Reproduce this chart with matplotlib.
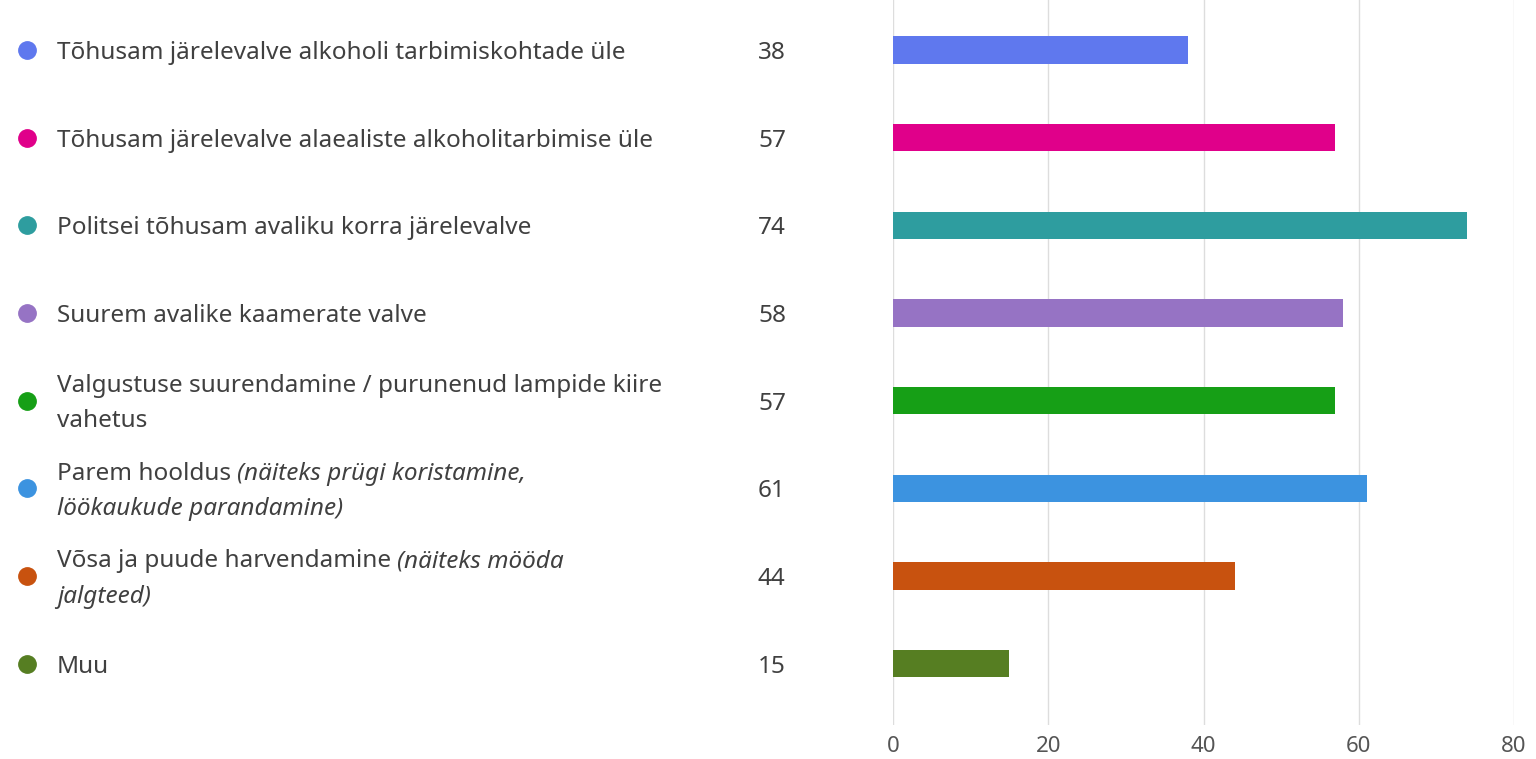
import matplotlib
matplotlib.use("Agg")
import numpy as np
from matplotlib import pyplot as plt
from matplotlib import transforms

# andmed
values = [38, 57, 74, 58, 57, 61, 44, 15]
colors = ["#5F78EE", "#E0008A", "#2E9D9F", "#9673C4", "#169F16", "#3C93E0", "#C8520F", "#567E22"]
# iga rida: list ridu, iga rida = (tavaline tekst, kaldkirjas tekst)
labels = [
    [("Tõhusam järelevalve alkoholi tarbimiskohtade üle", "")],
    [("Tõhusam järelevalve alaealiste alkoholitarbimise üle", "")],
    [("Politsei tõhusam avaliku korra järelevalve", "")],
    [("Suurem avalike kaamerate valve", "")],
    [("Valgustuse suurendamine / purunenud lampide kiire", ""), ("vahetus", "")],
    [("Parem hooldus", "(näiteks prügi koristamine,"), ("", "löökaukude parandamine)")],
    [("Võsa ja puude harvendamine", "(näiteks mööda"), ("", "jalgteed)")],
    [("Muu", "")],
]
xticks = [0, 20, 40, 60, 80]

plt.rcParams['font.family'] = ['Noto Sans', 'DejaVu Sans']
txt_color = "#404040"
fs = 17.5

W, H = 1536, 759
fig = plt.figure(figsize=(W / 100, H / 100), dpi=100)
ax = fig.add_axes([893 / W, 34 / H, 621 / W, 1 - 34 / H])

y = np.arange(len(values))
ax.barh(y, values, height=0.31, color=colors, zorder=3)
ax.set_xlim(0, 80)
ax.set_ylim(7.7, -0.57)
ax.set_xticks(xticks)
ax.set_yticks([])
ax.grid(axis='x', color='#DDDDDD', linewidth=1, zorder=0)
for s in ax.spines.values():
    s.set_visible(False)
ax.tick_params(axis='x', length=0, labelsize=16, labelcolor='#555555', pad=8)

blend = transforms.blended_transform_factory(fig.transFigure, ax.transData)
renderer = fig.canvas.get_renderer()
line_gap = 0.40  # rea vahe andmeühikutes

for i, (lines, v, c) in enumerate(zip(labels, values, colors)):
    ax.plot([27 / W], [i], 'o', ms=12.5, color=c, transform=blend, clip_on=False)
    ax.text(758 / W, i, str(v), transform=blend, va='center_baseline', ha='left',
            fontsize=fs, color=txt_color)
    n = len(lines)
    for k, (normal, ital) in enumerate(lines):
        yy = i + (k - (n - 1) / 2) * line_gap
        x0 = 57 / W
        if normal:
            t = ax.text(x0, yy, normal, transform=blend, va='center_baseline', ha='left',
                        fontsize=fs, color=txt_color)
            bb = t.get_window_extent(renderer)
            x0 = bb.x1 / W + 6 / W
        if ital:
            ax.text(x0, yy, ital, transform=blend, va='center_baseline', ha='left',
                    fontsize=fs, color=txt_color, style='italic')

fig.savefig("out.png", dpi=100)
